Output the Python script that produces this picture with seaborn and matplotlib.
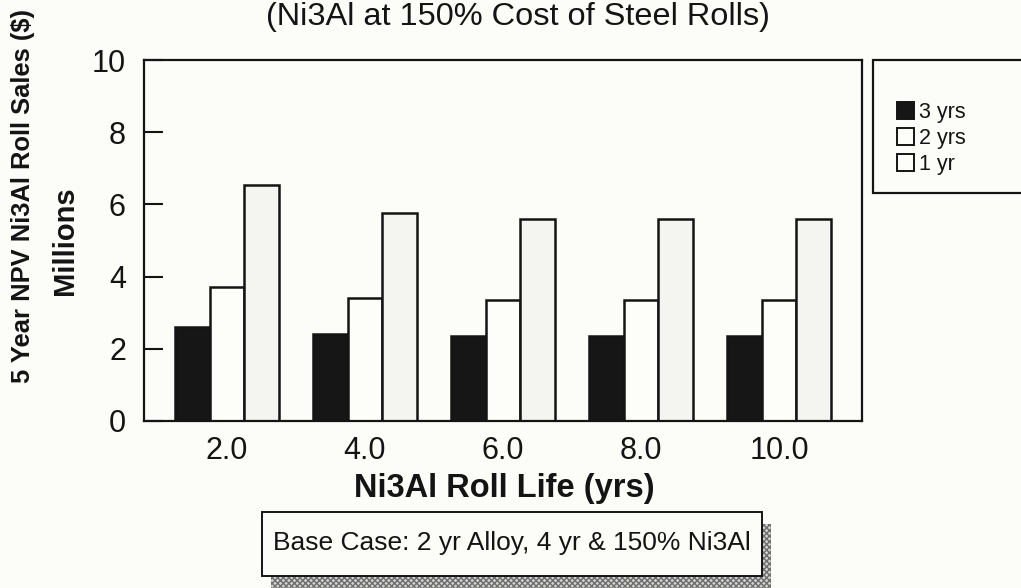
import numpy as np
import pandas as pd
import matplotlib
matplotlib.use("Agg")
import matplotlib.pyplot as plt
from matplotlib.patches import Patch, Rectangle
import seaborn as sns

# Net present value of Ni3Al roll sales (millions $) by roll life
roll_life = ["2.0", "4.0", "6.0", "8.0", "10.0"]
series_names = ["3 yrs", "2 yrs", "1 yr"]
npv_3yrs = [2.6, 2.4, 2.35, 2.35, 2.35]
npv_2yrs = [3.7, 3.4, 3.35, 3.35, 3.35]
npv_1yr = [6.55, 5.75, 5.6, 5.6, 5.6]
y_ticks = [0, 2, 4, 6, 8, 10]

df = pd.DataFrame({
    "life": roll_life * len(series_names),
    "series": np.repeat(series_names, len(roll_life)),
    "npv": npv_3yrs + npv_2yrs + npv_1yr,
})

BG = "#fcfcf8"
INK = "#141414"
sns.set_theme(style="white")
plt.rcParams["font.family"] = ["Liberation Sans", "DejaVu Sans"]
plt.rcParams["hatch.linewidth"] = 1.0

W, H = 1021, 588
fig = plt.figure(figsize=(W / 100, H / 100), dpi=100, facecolor=BG)


def fx(px):
    return px / W


def fy(py):
    return 1 - py / H


ax = fig.add_axes([fx(144), fy(421), fx(862) - fx(144), fy(60) - fy(421)])
ax.set_facecolor(BG)

palette = {"3 yrs": "#161616", "2 yrs": "#fdfdfa", "1 yr": "#f4f4f1"}
sns.barplot(data=df, x="life", y="npv", hue="series", order=roll_life,
            hue_order=series_names, palette=palette, width=0.75, gap=0,
            edgecolor=INK, linewidth=1.8, saturation=1, errorbar=None,
            legend=False, ax=ax)

ax.set_xlim(-0.6, 4.6)
ax.set_ylim(0, 10)
ax.set_yticks(y_ticks)
ax.set_yticklabels([str(t) for t in y_ticks])
ax.set_xlabel("")
ax.set_ylabel("")
ax.tick_params(axis="y", direction="in", length=14, width=1.5, color=INK,
               labelsize=22, labelcolor=INK, pad=13, left=True)
ax.tick_params(axis="x", direction="in", length=8, width=1.2, color=INK,
               labelsize=22, labelcolor=INK, pad=11, bottom=True)
for sp in ax.spines.values():
    sp.set_visible(True)
    sp.set_color(INK)
    sp.set_linewidth(1.6)

# Titles and axis labels
fig.text(fx(518), fy(17), "(Ni3Al at 150% Cost of Steel Rolls)",
         ha="center", va="center", fontsize=23.4, color=INK)
fig.text(fx(504), fy(489), "Ni3Al Roll Life (yrs)", ha="center",
         va="center", fontsize=23.5, fontweight="bold", color=INK)
fig.text(fx(23), fy(196), "5 Year NPV Ni3Al Roll Sales ($)", ha="center",
         va="center", rotation=90, fontsize=18.4, fontweight="bold", color=INK)
fig.text(fx(65), fy(241), "Millions", ha="center", va="center",
         rotation=90, fontsize=21, fontweight="bold", color=INK)

# Legend with an open-ended frame on the right
fig.add_artist(Rectangle((fx(873), fy(193)), fx(1040) - fx(873),
                         fy(60) - fy(193), transform=fig.transFigure,
                         facecolor=BG, edgecolor=INK, linewidth=1.6,
                         clip_on=False))
legend_fill = {"3 yrs": "#161616", "2 yrs": "#fdfdfa", "1 yr": "#fdfdfa"}
handles = [Patch(facecolor=legend_fill[s], edgecolor=INK, linewidth=1.4)
           for s in series_names]
fig.legend(handles, series_names, loc="upper left",
           bbox_to_anchor=(fx(897), fy(102)), frameon=False, fontsize=15.5,
           handlelength=0.8, handleheight=0.85, handletextpad=0.2,
           labelspacing=0.22, borderpad=0, borderaxespad=0,
           labelcolor=INK)

# Base-case note with a dithered drop shadow
bx0, bx1, by0, by1 = 262, 762, 512, 576
fig.add_artist(Rectangle((fx(bx0 + 9), fy(by1 + 12)), fx(bx1) - fx(bx0),
                         fy(by0) - fy(by1), transform=fig.transFigure,
                         facecolor="#d2d2d0", edgecolor="#6e6e6e",
                         hatch="xxxxxx", linewidth=0, clip_on=False))
fig.add_artist(Rectangle((fx(bx0), fy(by1)), fx(bx1) - fx(bx0),
                         fy(by0) - fy(by1), transform=fig.transFigure,
                         facecolor=BG, edgecolor=INK, linewidth=1.4,
                         clip_on=False))
fig.text(fx((bx0 + bx1) / 2), fy(543),
         "Base Case: 2 yr Alloy, 4 yr & 150% Ni3Al", ha="center",
         va="center", fontsize=19, color=INK)

fig.savefig("out.png", dpi=100, facecolor=BG)
